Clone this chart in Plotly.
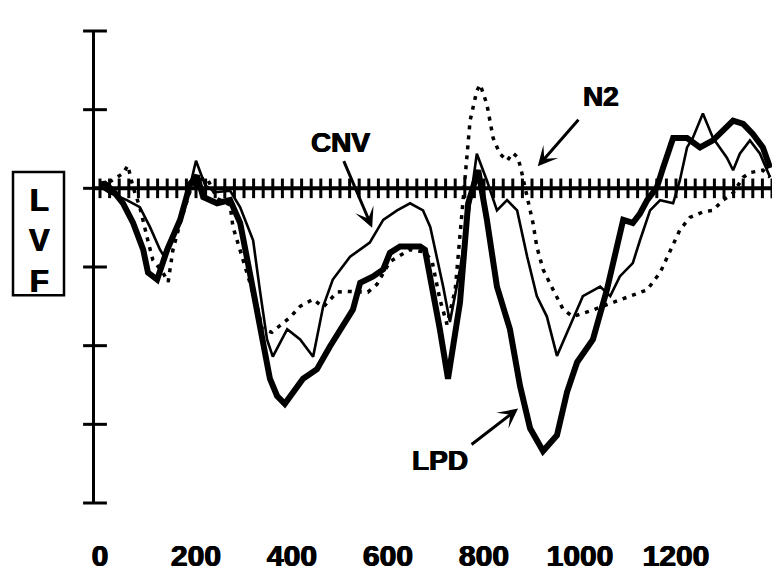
import plotly.graph_objects as go

# ---------------- data (time in ms, amplitude in axis units) ----------------
T_LPD = [0, 10, 27, 48, 69, 90, 100, 119, 140, 152, 167, 188, 202, 215, 244, 271, 292, 312, 333, 354,
         369, 385, 423, 452, 479, 506, 527, 542, 569, 590, 604, 625, 667, 677, 688, 708, 725, 750, 767,
         781, 788, 806, 827, 854, 875, 896, 923, 952, 973, 994, 1015, 1027, 1056, 1077, 1090, 1110,
         1125, 1140, 1160, 1173, 1188, 1194, 1223, 1250, 1277, 1298, 1319, 1340, 1360, 1381, 1396]
V_LPD = [0.05, 0.06, -0.03, -0.19, -0.44, -0.78, -1.07, -1.16, -0.78, -0.62, -0.40, 0.06, 0.16, -0.11,
         -0.19, -0.15, -0.44, -1.07, -1.70, -2.42, -2.64, -2.74, -2.42, -2.30, -2.01, -1.75, -1.54,
         -1.20, -1.12, -1.03, -0.82, -0.74, -0.74, -0.78, -1.12, -1.79, -2.42, -1.45, -0.19, 0.10,
         0.23, -0.40, -1.25, -1.79, -2.51, -3.05, -3.34, -3.14, -2.59, -2.21, -2.04, -1.92, -1.29,
         -0.78, -0.40, -0.44, -0.32, -0.15, 0.01, 0.26, 0.52, 0.64, 0.64, 0.52, 0.61, 0.73, 0.86,
         0.82, 0.69, 0.52, 0.26]

T_CNV = [0, 21, 56, 83, 104, 125, 135, 152, 167, 188, 200, 219, 240, 271, 292, 319, 333, 348, 360,
         390, 417, 444, 465, 485, 521, 562, 590, 619, 646, 673, 688, 715, 729, 750, 771, 785, 806,
         827, 848, 869, 890, 910, 931, 952, 979, 1006, 1042, 1063, 1083, 1110, 1125, 1146, 1167,
         1194, 1208, 1223, 1235, 1256, 1277, 1306, 1319, 1333, 1354, 1375, 1396]
V_CNV = [0.02, -0.06, -0.15, -0.24, -0.49, -0.78, -0.88, -0.59, -0.40, 0.04, 0.35, 0.04, -0.05, -0.03,
         -0.24, -0.66, -1.29, -1.92, -2.14, -1.79, -1.92, -2.14, -1.50, -1.16, -0.87, -0.69, -0.40,
         -0.28, -0.19, -0.28, -0.49, -1.25, -1.70, -1.03, -0.19, 0.44, 0.10, -0.28, -0.15, -0.28,
         -0.87, -1.37, -1.63, -2.13, -1.75, -1.37, -1.25, -1.37, -1.12, -0.95, -0.66, -0.28, -0.15,
         -0.19, 0.10, 0.52, 0.64, 0.95, 0.64, 0.39, 0.23, 0.44, 0.61, 0.44, 0.14]

T_N2 = [0, 25, 48, 58, 69, 83, 98, 110, 131, 142, 152, 167, 188, 202, 223, 244, 271, 277, 306, 327,
        338, 358, 396, 417, 444, 465, 494, 515, 558, 577, 604, 646, 677, 692, 708, 723, 740, 754,
        765, 771, 785, 792, 806, 813, 819, 833, 848, 860, 871, 879, 890, 902, 910, 923, 944, 965,
        985, 1021, 1069, 1104, 1140, 1167, 1188, 1208, 1229, 1256, 1277, 1298, 1319, 1340, 1354,
        1381, 1396]
V_N2 = [0.03, 0.10, 0.19, 0.29, 0.01, -0.24, -0.62, -0.91, -1.07, -1.19, -0.78, -0.44, -0.03, 0.10,
        0.13, -0.13, -0.21, -0.49, -1.07, -1.50, -1.79, -1.83, -1.64, -1.50, -1.41, -1.51, -1.32,
        -1.31, -1.32, -1.22, -0.93, -0.78, -0.81, -0.93, -1.41, -1.73, -1.29, -0.28, 0.44, 0.86,
        1.24, 1.32, 1.07, 0.86, 0.64, 0.44, 0.35, 0.45, 0.39, 0.19, -0.11, -0.44, -0.74, -1.03,
        -1.29, -1.54, -1.63, -1.56, -1.45, -1.37, -1.29, -1.07, -0.78, -0.53, -0.37, -0.30, -0.28,
        -0.15, -0.06, 0.14, 0.20, 0.23, 0.14]

X_TICKS = [0, 200, 400, 600, 800, 1000, 1200]
X_TICK_LABELS = ["0", "200", "400", "600", "800", "1000", "1200"]
Y_TICKS = [-4, -3, -2, -1, 0, 1, 2]
HATCH_STEP = 20

# ---------------- layout constants ----------------
W, H = 772, 572
ML, MR, MT, MB = 95, 0, 31, 66
X_RANGE = [-10.42, 1400]
Y_RANGE = [-4, 2]
FONT = "Liberation Sans"
HEAVY = "0.6px 0 0 black, -0.6px 0 0 black"

fig = go.Figure()

# hatched zero line
fig.add_trace(go.Scatter(x=X_RANGE, y=[0, 0], mode="lines",
                         line=dict(color="black", width=4), hoverinfo="skip", showlegend=False))
hatch_x = list(range(0, int(X_RANGE[1]) + 1, HATCH_STEP))
fig.add_trace(go.Scatter(x=hatch_x, y=[0] * len(hatch_x), mode="markers",
                         marker=dict(symbol="line-ns", size=14, line=dict(color="black", width=3)),
                         hoverinfo="skip", showlegend=False, cliponaxis=False))

# y-axis crossing ticks
fig.add_trace(go.Scatter(x=[X_RANGE[0]] * len(Y_TICKS), y=Y_TICKS, mode="markers",
                         marker=dict(symbol="line-ew", size=17, line=dict(color="black", width=3)),
                         hoverinfo="skip", showlegend=False, cliponaxis=False))

# curves
fig.add_trace(go.Scatter(x=T_N2, y=V_N2, mode="lines", name="N2",
                         line=dict(color="black", width=3.5, dash="4px,6px")))
fig.add_trace(go.Scatter(x=T_CNV, y=V_CNV, mode="lines", name="CNV",
                         line=dict(color="black", width=2.6)))
fig.add_trace(go.Scatter(x=T_LPD, y=V_LPD, mode="lines", name="LPD",
                         line=dict(color="black", width=6)))

lab_font = dict(family=FONT, size=28, color="black", weight="bold", shadow=HEAVY)

# label texts
fig.add_annotation(x=500, y=0.58, text="CNV", showarrow=False, font=lab_font,
                   xanchor="center", yanchor="middle")
fig.add_annotation(x=1044, y=1.17, text="N2", showarrow=False, font=lab_font,
                   xanchor="center", yanchor="middle")
fig.add_annotation(x=708, y=-3.46, text="LPD", showarrow=False, font=lab_font,
                   xanchor="center", yanchor="middle")

# arrows
arrow = dict(showarrow=True, text="", arrowhead=3, arrowsize=1.1, arrowwidth=3, arrowcolor="black")
fig.add_annotation(x=567, y=-0.50, ax=-29, ay=-68, **arrow)
fig.add_annotation(x=912, y=0.28, ax=42, ay=-48, **arrow)
fig.add_annotation(x=871, y=-2.80, ax=-48, ay=37, **arrow)

# LVF box
pw, ph = W - ML - MR, H - MT - MB
def px(xp):
    return (xp - ML) / pw
def py(yp):
    return (H - MB - yp) / ph

fig.add_shape(type="rect", xref="paper", yref="paper",
              x0=px(13), x1=px(64), y0=py(297), y1=py(173),
              line=dict(color="black", width=2.5), fillcolor="white", layer="below")
fig.add_annotation(xref="paper", yref="paper", x=px(39), y=py(242), text="L<br>V<br>F",
                   showarrow=False,
                   font=dict(family=FONT, size=31, color="black", weight="bold", shadow=HEAVY),
                   align="center", xanchor="center", yanchor="middle")

fig.update_layout(
    width=W, height=H,
    margin=dict(l=ML, r=MR, t=MT, b=MB, pad=0),
    paper_bgcolor="white", plot_bgcolor="white",
    showlegend=False,
    xaxis=dict(range=X_RANGE, showgrid=False, zeroline=False, showline=False,
               tickvals=X_TICKS, ticktext=X_TICK_LABELS,
               ticks="outside", ticklen=26, tickcolor="rgba(0,0,0,0)",
               tickfont=dict(family=FONT, size=30, color="black", weight="bold", shadow=HEAVY)),
    yaxis=dict(range=Y_RANGE, showgrid=False, zeroline=False, showline=True,
               linecolor="black", linewidth=3, ticks="", showticklabels=False),
)

fig.write_html("out.html")
